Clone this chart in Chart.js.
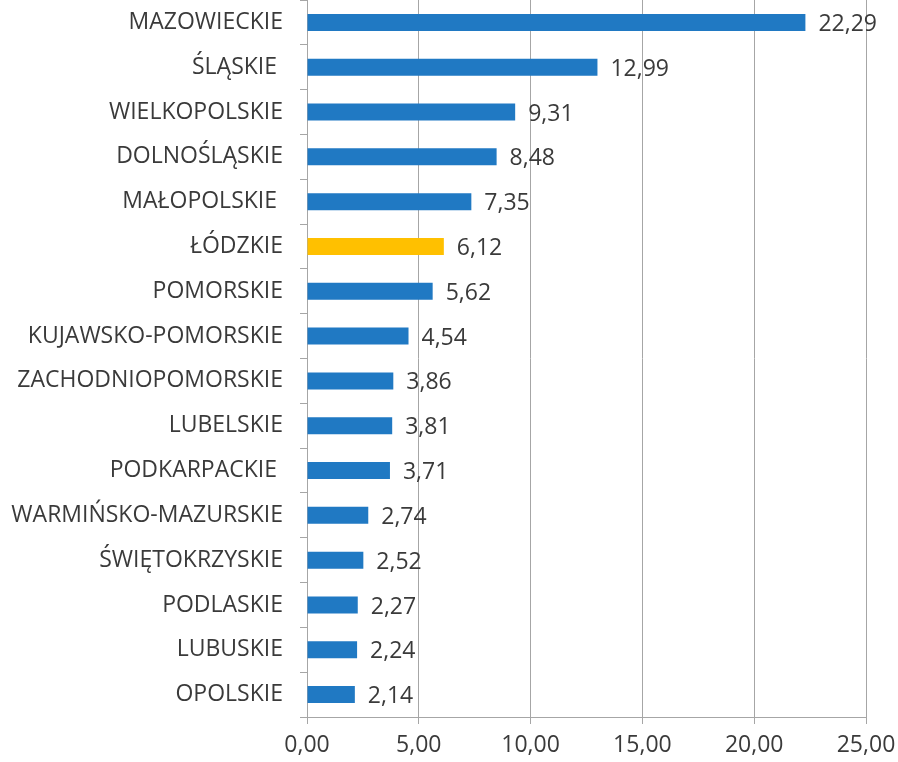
<!DOCTYPE html>
<html lang="pl">
<head>
    <meta charset="UTF-8">
    <title>Województwa</title>
    <script src="https://cdn.jsdelivr.net/npm/chart.js"></script>
    <style>
        html, body { margin: 0; padding: 0; background: #fff; }
        .chart-container { position: relative; width: 898px; height: 762px; }
    </style>
</head>
<body>
    <div class="chart-container">
        <canvas id="regionChart"></canvas>
    </div>

    <script>
        const regions = [
            'MAZOWIECKIE', 'ŚLĄSKIE ', 'WIELKOPOLSKIE', 'DOLNOŚLĄSKIE', 'MAŁOPOLSKIE ',
            'ŁÓDZKIE', 'POMORSKIE', 'KUJAWSKO-POMORSKIE', 'ZACHODNIOPOMORSKIE', 'LUBELSKIE',
            'PODKARPACKIE ', 'WARMIŃSKO-MAZURSKIE', 'ŚWIĘTOKRZYSKIE', 'PODLASKIE', 'LUBUSKIE', 'OPOLSKIE'
        ];
        const shares = [22.29, 12.99, 9.31, 8.48, 7.35, 6.12, 5.62, 4.54, 3.86, 3.81, 3.71, 2.74, 2.52, 2.27, 2.24, 2.14];
        const highlighted = 'ŁÓDZKIE';
        const xTicks = [0, 5, 10, 15, 20, 25];

        const blue = '#2079c3';
        const yellow = '#ffc000';
        const textColor = '#3a3a3a';
        const gridColor = '#a6a6a6';
        const family = '"Open Sans", sans-serif';
        const labelFont = { family: family, size: 23 };
        const tickFont = { family: family, size: 23 };
        const valueSize = 23;

        const fmt = v => v.toFixed(2).replace('.', ',');

        // values written to the right of each bar
        const valueLabels = {
            id: 'valueLabels',
            afterDatasetsDraw(chart) {
                const ctx = chart.ctx;
                const meta = chart.getDatasetMeta(0);
                ctx.save();
                ctx.font = valueSize + 'px ' + family;
                ctx.fillStyle = textColor;
                ctx.textAlign = 'left';
                ctx.textBaseline = 'middle';
                meta.data.forEach((bar, i) => {
                    ctx.fillText(fmt(shares[i]), bar.x + 13, bar.y + 2);
                });
                ctx.restore();
            }
        };

        const ctx = document.getElementById('regionChart').getContext('2d');
        new Chart(ctx, {
            type: 'bar',
            data: {
                labels: regions,
                datasets: [{
                    data: shares,
                    backgroundColor: regions.map(r => r === highlighted ? yellow : blue),
                    barPercentage: 0.38,
                    categoryPercentage: 1
                }]
            },
            options: {
                indexAxis: 'y',
                responsive: true,
                maintainAspectRatio: false,
                animation: false,
                layout: { padding: { top: 0, right: 32, bottom: 0, left: 0 } },
                plugins: {
                    legend: { display: false },
                    tooltip: { enabled: false }
                },
                scales: {
                    x: {
                        min: 0,
                        max: 25,
                        afterBuildTicks: axis => { axis.ticks = xTicks.map(v => ({ value: v })); },
                        afterFit: axis => { axis.height = 45; axis.paddingLeft = 0; axis.paddingRight = 0; },
                        grid: { color: gridColor, tickLength: 7 },
                        border: { color: gridColor },
                        ticks: {
                            color: textColor,
                            font: tickFont,
                            padding: 8,
                            maxRotation: 0,
                            callback: v => fmt(v)
                        }
                    },
                    y: {
                        afterFit: axis => { axis.width = 307; axis.paddingTop = 0; axis.paddingBottom = 0; },
                        grid: { drawOnChartArea: false, color: gridColor, tickLength: 7 },
                        border: { color: gridColor },
                        ticks: {
                            color: textColor,
                            font: labelFont,
                            padding: 17,
                            autoSkip: false
                        }
                    }
                }
            },
            plugins: [valueLabels]
        });
    </script>
</body>
</html>
